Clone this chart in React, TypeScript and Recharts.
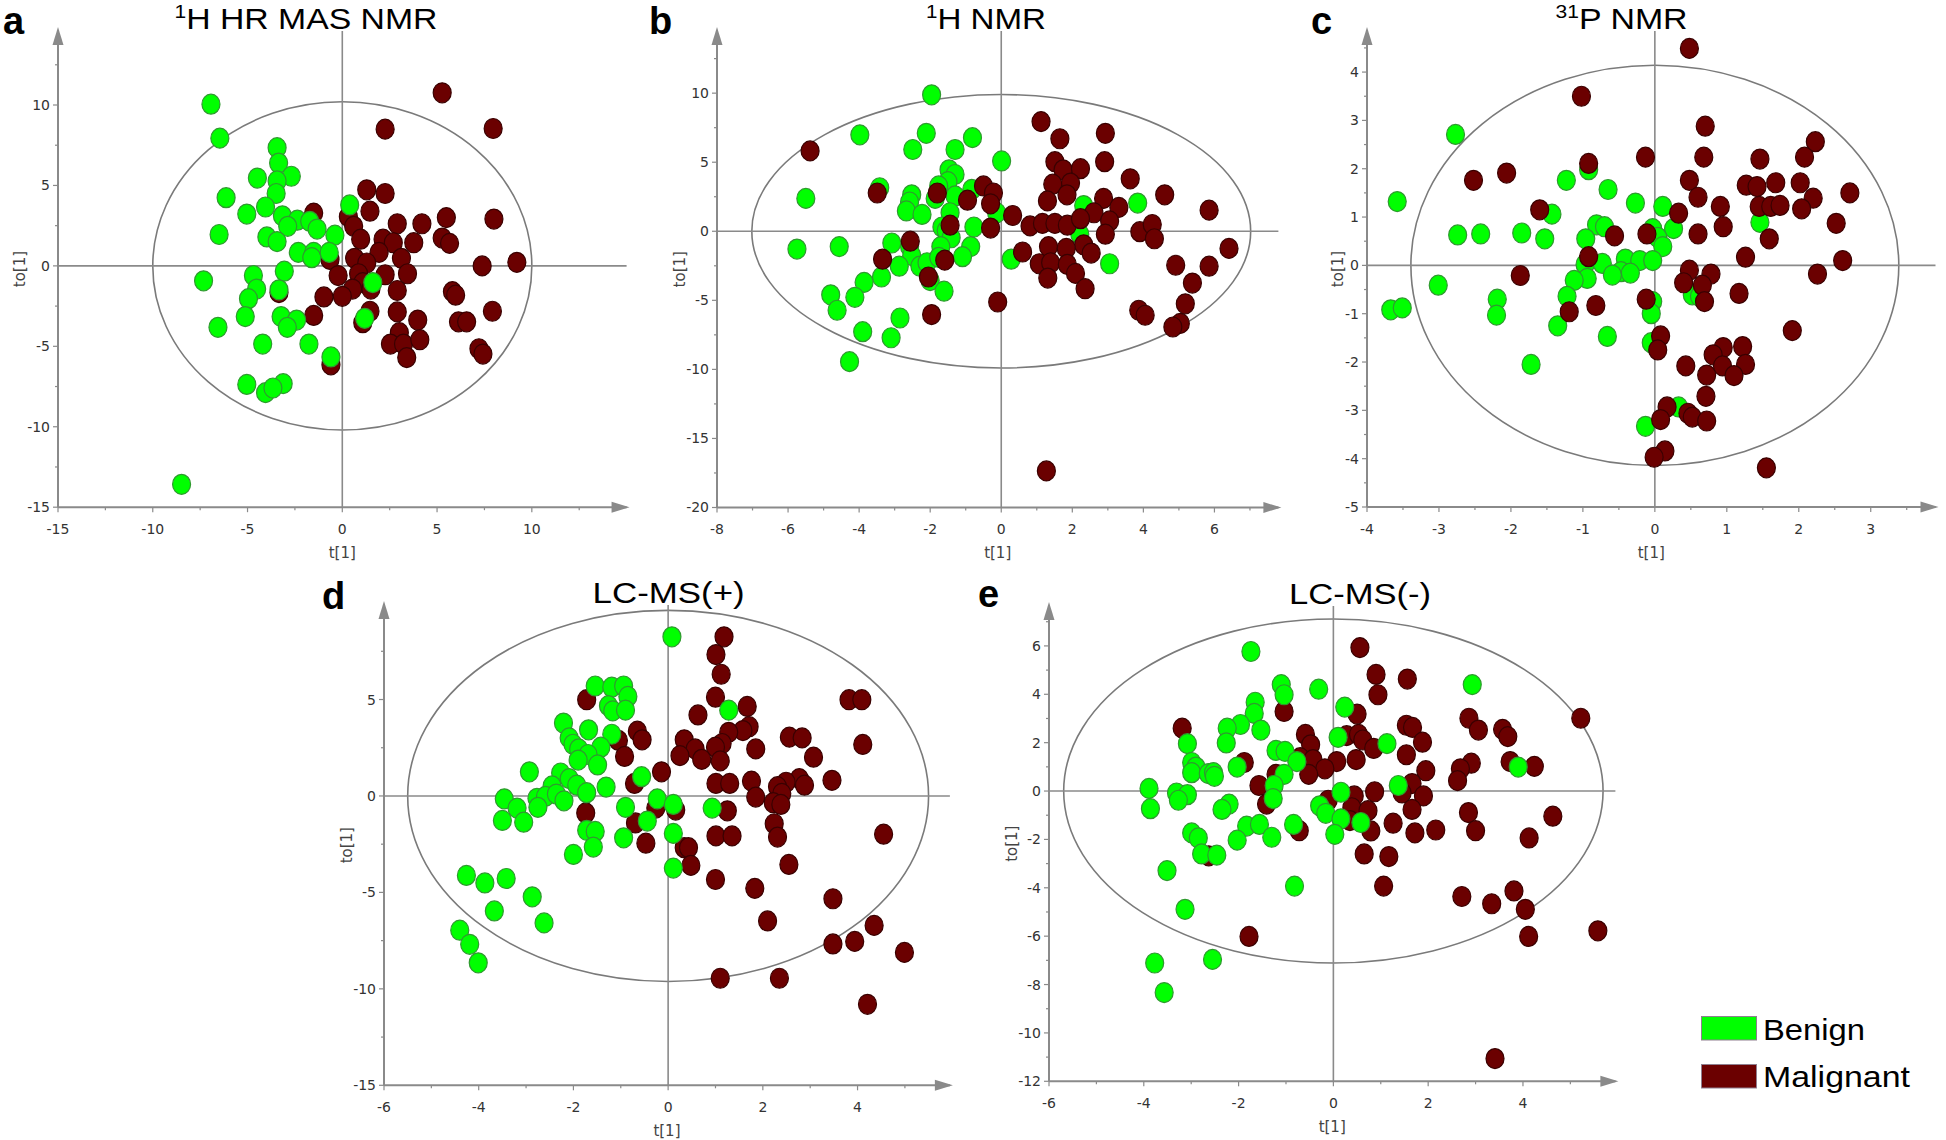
import React from 'react';
import { ScatterChart, Scatter, XAxis, YAxis, ReferenceLine, ReferenceArea, ReferenceDot } from 'recharts';

type Pt = [number, number];

// ---------- Panel a: 1H HR MAS NMR ----------
const aBenign: Pt[] = [
  [-6.93, 10.05], [-6.46, 7.94], [-3.44, 7.35], [-3.36, 6.39], [-4.48, 5.46], [-2.69, 5.57], [-3.44, 5.28],
  [-3.49, 4.5], [-6.13, 4.24], [-4.05, 3.66], [-5.04, 3.22], [-3.16, 3.11], [-2.37, 2.84], [-1.72, 2.77],
  [-2.88, 2.46], [-1.33, 2.29], [-6.5, 1.95], [-3.98, 1.8], [-3.44, 1.51], [-0.39, 1.91], [0.39, 3.79],
  [-2.32, 0.84], [-1.51, 0.84], [-1.61, 0.51], [-0.69, 0.84], [-3.06, -0.33], [-7.32, -0.93], [-4.69, -0.6],
  [-4.52, -1.44], [-3.34, -1.49], [-4.95, -2.04], [1.61, -1.04], [-5.12, -3.15], [-3.23, -3.15], [-2.41, -3.37],
  [-2.9, -3.82], [-6.56, -3.82], [-4.2, -4.86], [-1.76, -4.86], [1.18, -3.26], [-0.6, -5.66], [-5.04, -7.37],
  [-3.12, -7.32], [-4.05, -7.88], [-3.66, -7.59], [-8.48, -13.58],
];
const aMalignant: Pt[] = [
  [5.27, 10.76], [2.26, 8.5], [7.96, 8.54], [1.29, 4.73], [2.26, 4.5], [1.46, 3.4], [-1.51, 3.28], [0.32, 3.06],
  [5.49, 3.0], [8.0, 2.91], [2.9, 2.62], [4.2, 2.62], [0.6, 2.46], [0.97, 1.66], [2.15, 1.66], [2.69, 1.44],
  [3.77, 1.44], [5.27, 1.73], [5.66, 1.4], [1.94, 0.84], [0.65, 0.47], [3.12, 0.47], [1.29, 0.18], [7.38, 0.0],
  [9.21, 0.22], [-0.65, 0.4], [-0.22, -0.6], [0.86, -0.49], [2.26, -0.55], [3.44, -0.49], [1.08, -1.04],
  [1.51, -1.44], [0.54, -1.44], [0.0, -1.89], [-0.97, -1.93], [2.9, -1.53], [5.81, -1.6], [5.98, -1.82],
  [7.92, -2.82], [-1.51, -3.08], [1.46, -2.82], [2.9, -2.86], [1.08, -3.53], [3.98, -3.37], [6.13, -3.48],
  [6.56, -3.48], [3.01, -4.15], [2.54, -4.86], [3.23, -4.86], [4.09, -4.59], [3.4, -5.7], [7.21, -5.15],
  [7.42, -5.48], [-0.6, -6.15], [-3.34, -1.66],
];

// ---------- Panel b: 1H NMR ----------
const bBenign: Pt[] = [
  [-1.96, 9.88], [-3.98, 6.98], [-2.11, 7.09], [-0.81, 6.78], [-2.49, 5.92], [-1.3, 5.92], [0.01, 5.09],
  [-1.47, 4.45], [-1.3, 4.11], [-1.5, 3.59], [-1.76, 3.28], [-3.42, 3.15], [-0.83, 3.03], [-2.52, 2.64],
  [-1.3, 2.56], [-2.58, 2.12], [-5.5, 2.38], [-1.86, 2.38], [-2.67, 1.47], [-2.23, 1.22], [-1.44, 1.34],
  [-0.13, 1.34], [2.32, 1.86], [3.84, 2.04], [-1.67, 0.31], [-1.55, 0.05], [-0.77, 0.31], [-1.41, -0.47],
  [2.21, -0.21], [-5.75, -1.29], [-4.56, -1.11], [-3.08, -0.85], [-2.58, -1.11], [-1.7, -1.11], [-0.86, -1.11],
  [-2.52, -1.76], [-1.09, -1.84], [0.28, -2.02], [-2.87, -2.53], [-2.29, -2.53], [3.05, -2.35], [-2.09, -2.28],
  [-3.37, -3.31], [-3.86, -3.7], [-2.0, -3.57], [-1.61, -4.34], [-4.8, -4.6], [-4.12, -4.78], [-4.62, -5.72],
  [-2.85, -6.28], [-3.9, -7.27], [-3.1, -7.71], [-4.27, -9.44], [-1.76, -1.89],
];
const bMalignant: Pt[] = [
  [-5.38, 5.82], [1.12, 7.94], [1.65, 6.7], [2.93, 7.09], [2.91, 5.04], [1.51, 5.04], [1.74, 4.45], [2.23, 4.53],
  [3.63, 3.8], [1.45, 3.41], [1.95, 3.49], [1.85, 2.64], [-0.5, 3.28], [-0.22, 2.77], [-3.49, 2.77], [-1.8, 2.77],
  [-0.95, 2.25], [-0.3, 1.99], [1.3, 2.2], [2.88, 2.38], [4.6, 2.64], [3.31, 1.73], [2.61, 1.34], [5.85, 1.53],
  [0.32, 1.14], [-0.3, 0.23], [-1.44, 0.44], [0.81, 0.39], [1.16, 0.57], [1.51, 0.57], [1.86, 0.44], [2.23, 0.91],
  [3.05, 0.75], [2.93, -0.21], [3.9, -0.03], [4.25, 0.49], [4.31, -0.54], [2.32, -0.98], [6.41, -1.24],
  [-2.56, -0.72], [0.6, -1.5], [1.33, -1.11], [1.83, -1.24], [2.53, -1.58], [-3.34, -2.02], [-1.59, -2.09],
  [1.07, -2.35], [1.39, -2.28], [1.86, -2.4], [2.09, -3.05], [4.91, -2.46], [5.85, -2.53], [1.31, -3.39],
  [2.36, -4.16], [5.38, -3.75], [-2.05, -3.31], [-0.1, -5.12], [-1.96, -6.03], [3.87, -5.72], [4.05, -6.08],
  [5.18, -5.25], [5.04, -6.67], [4.83, -6.93], [1.27, -17.35],
];

// ---------- Panel c: 31P NMR ----------
const cBenign: Pt[] = [
  [-2.77, 2.71], [-3.58, 1.32], [-1.23, 1.76], [-0.65, 1.57], [-0.92, 1.98], [-0.27, 1.29], [0.11, 1.22],
  [-1.43, 1.06], [-0.81, 0.84], [-0.7, 0.8], [0.26, 0.76], [-2.74, 0.63], [-2.42, 0.65], [-1.85, 0.67],
  [-1.53, 0.55], [-0.96, 0.55], [-0.03, 0.76], [0.04, 0.58], [0.11, 0.39], [1.46, 0.89], [-0.97, 0.02],
  [-0.73, 0.04], [-0.41, 0.13], [-0.21, 0.1], [-0.03, 0.1], [-0.47, -0.13], [-0.59, -0.2], [-0.34, -0.16],
  [-0.94, -0.27], [-1.12, -0.31], [-3.01, -0.41], [-1.22, -0.64], [-2.19, -0.7], [0.52, -0.61], [0.62, -0.64],
  [-3.67, -0.92], [-3.51, -0.88], [-2.2, -1.03], [-0.03, -0.75], [-0.05, -1.0], [-1.35, -1.25], [-0.66, -1.47],
  [-0.05, -1.6], [-1.72, -2.05], [0.33, -2.93], [-0.13, -3.33],
];
const cMalignant: Pt[] = [
  [0.48, 4.49], [-1.02, 3.5], [0.7, 2.88], [2.23, 2.56], [-0.13, 2.24], [0.68, 2.24], [1.46, 2.2], [2.08, 2.24],
  [-2.06, 1.91], [-0.92, 2.11], [-2.52, 1.76], [0.48, 1.76], [1.27, 1.66], [1.42, 1.63], [1.68, 1.71],
  [2.02, 1.71], [2.71, 1.5], [0.6, 1.41], [2.2, 1.39], [1.45, 1.22], [1.61, 1.22], [1.74, 1.24], [2.04, 1.17],
  [0.91, 1.22], [-1.6, 1.15], [0.33, 1.08], [2.52, 0.87], [0.95, 0.8], [-0.56, 0.61], [0.6, 0.65], [-0.11, 0.65],
  [1.59, 0.55], [-0.92, 0.18], [1.26, 0.17], [2.61, 0.1], [-1.87, -0.21], [0.48, -0.1], [2.26, -0.18],
  [0.78, -0.18], [0.4, -0.36], [0.66, -0.41], [1.17, -0.58], [0.69, -0.75], [-0.12, -0.7], [-0.82, -0.83],
  [-1.19, -0.96], [1.91, -1.35], [0.08, -1.46], [0.04, -1.75], [0.95, -1.7], [1.22, -1.68], [0.81, -1.85],
  [0.43, -2.08], [0.94, -2.08], [1.26, -2.05], [0.72, -2.27], [1.1, -2.28], [0.71, -2.71], [0.17, -2.93],
  [0.46, -3.06], [0.52, -3.14], [0.72, -3.22], [0.08, -3.19], [0.14, -3.84], [-0.01, -3.97], [1.55, -4.19],
];

// ---------- Panel d: LC-MS(+) ----------
const dBenign: Pt[] = [
  [0.08, 8.25], [-1.54, 5.7], [-1.19, 5.64], [-0.94, 5.7], [-0.85, 5.16], [-1.26, 4.68], [-1.17, 4.41],
  [-0.9, 4.45], [1.28, 4.45], [-2.21, 3.78], [-1.68, 3.43], [-1.19, 3.2], [-2.09, 3.01], [-2.01, 2.68],
  [-1.89, 2.44], [-1.42, 2.53], [-1.69, 2.15], [-1.9, 1.86], [-1.49, 1.61], [-2.93, 1.25], [-2.27, 1.19],
  [-2.09, 0.9], [-0.56, 1.0], [-1.93, 0.56], [-1.31, 0.46], [-2.45, 0.52], [-1.72, 0.17], [-3.46, -0.15],
  [-2.77, -0.12], [-2.59, -0.02], [-2.36, 0.1], [-2.2, -0.25], [-3.19, -0.63], [-2.75, -0.59], [-0.23, -0.15],
  [0.11, -0.44], [-0.9, -0.59], [0.93, -0.63], [-3.5, -1.27], [-3.05, -1.36], [-0.44, -1.3], [-1.72, -1.78],
  [-1.54, -1.84], [0.11, -1.94], [-0.94, -2.17], [-1.58, -2.65], [-2.0, -3.03], [0.11, -3.74], [-4.26, -4.12],
  [-3.87, -4.51], [-3.42, -4.28], [-2.87, -5.23], [-3.67, -5.96], [-2.62, -6.58], [-4.4, -6.96], [-4.19, -7.69],
  [-4.01, -8.65],
];
const dMalignant: Pt[] = [
  [1.18, 8.25], [1.01, 7.33], [1.12, 6.31], [-1.72, 4.99], [1.0, 5.12], [3.82, 4.99], [4.09, 4.99], [1.67, 4.64],
  [0.63, 4.2], [1.71, 3.59], [1.58, 3.39], [-0.65, 3.36], [1.28, 3.3], [2.56, 3.05], [2.83, 3.01], [0.34, 2.91],
  [-0.55, 2.91], [-1.05, 2.88], [1.14, 2.72], [1.0, 2.53], [0.57, 2.44], [4.11, 2.67], [1.85, 2.44], [0.25, 2.09],
  [-0.92, 2.05], [0.71, 1.9], [1.1, 1.82], [3.07, 2.01], [-0.14, 1.25], [1.76, 0.77], [1.01, 0.65], [1.3, 0.65],
  [2.77, 0.9], [3.46, 0.81], [2.49, 0.71], [2.88, 0.56], [2.31, 0.48], [-0.71, 0.65], [2.4, 0.13], [1.85, -0.06],
  [2.22, -0.35], [2.38, -0.44], [-0.26, -0.63], [0.16, -0.73], [1.25, -0.77], [-1.74, -0.88], [-0.69, -1.4],
  [2.24, -1.44], [1.01, -2.07], [1.35, -2.07], [2.31, -2.13], [4.55, -1.98], [-0.47, -2.45], [0.34, -2.68],
  [0.43, -2.68], [0.48, -3.6], [2.55, -3.55], [1.0, -4.33], [1.83, -4.79], [3.48, -5.33], [2.1, -6.48],
  [4.35, -6.71], [3.48, -7.67], [3.94, -7.54], [4.99, -8.11], [1.1, -9.45], [2.35, -9.45], [4.21, -10.8],
];

// ---------- Panel e: LC-MS(-) ----------
const eBenign: Pt[] = [
  [-1.74, 5.77], [2.93, 4.4], [-1.1, 4.4], [-1.04, 3.98], [-0.31, 4.21], [-1.65, 3.67], [-1.67, 3.21],
  [0.24, 3.47], [-1.96, 2.75], [-2.24, 2.6], [-1.53, 2.52], [-3.08, 1.96], [-2.26, 1.99], [1.13, 1.96],
  [0.1, 2.22], [-1.21, 1.68], [-1.02, 1.64], [-0.77, 1.22], [-2.03, 0.99], [-2.99, 1.18], [-2.9, 0.99],
  [-2.99, 0.76], [-2.64, 0.72], [-2.53, 0.76], [-2.51, 0.61], [-1.04, 0.69], [3.9, 0.99], [-1.25, 0.23],
  [-3.89, 0.11], [1.37, 0.23], [0.16, -0.05], [-3.31, -0.08], [-3.08, -0.15], [-3.27, -0.38], [-1.27, -0.31],
  [-3.86, -0.73], [-2.2, -0.54], [-2.35, -0.76], [-0.29, -0.61], [-0.16, -0.92], [0.16, -1.15], [0.58, -1.3],
  [-1.83, -1.45], [-1.56, -1.38], [-0.84, -1.38], [-2.99, -1.73], [-1.3, -1.91], [-2.85, -1.94], [-2.03, -2.03],
  [0.03, -1.79], [-2.78, -2.6], [-2.46, -2.65], [-3.51, -3.29], [-0.82, -3.93], [-3.13, -4.89], [-3.77, -7.11],
  [-2.55, -6.96], [-3.57, -8.33],
];
const eMalignant: Pt[] = [
  [0.56, 5.93], [0.9, 4.82], [1.56, 4.63], [0.94, 3.98], [-1.04, 3.29], [0.5, 3.18], [5.22, 3.01], [2.86, 3.01],
  [-3.19, 2.6], [3.06, 2.52], [1.54, 2.72], [1.67, 2.63], [3.57, 2.55], [3.68, 2.25], [-0.59, 2.34], [0.28, 2.29],
  [0.53, 2.34], [-0.48, 1.91], [0.62, 2.11], [1.88, 2.02], [0.85, 1.76], [-0.7, 1.38], [-0.43, 1.3], [0.48, 1.3],
  [1.54, 1.5], [-1.88, 1.18], [0.07, 1.22], [2.91, 1.15], [3.73, 1.22], [4.24, 1.02], [2.68, 0.92], [-0.18, 0.92],
  [1.95, 0.84], [-0.52, 0.69], [-1.21, 0.69], [2.62, 0.43], [-1.57, 0.23], [1.66, 0.31], [1.45, -0.08],
  [0.87, -0.03], [0.44, -0.2], [1.9, -0.2], [-0.11, -0.38], [-1.41, -0.54], [0.39, -0.69], [1.66, -0.76],
  [0.73, -0.81], [2.85, -0.89], [4.63, -1.04], [1.26, -1.33], [0.35, -1.22], [2.16, -1.61], [1.72, -1.73],
  [3.0, -1.64], [0.79, -1.65], [-0.72, -1.64], [4.13, -1.94], [-2.63, -2.68], [0.65, -2.6], [1.17, -2.71],
  [1.06, -3.93], [2.71, -4.36], [3.81, -4.13], [3.34, -4.66], [4.05, -4.89], [5.58, -5.78], [-1.78, -6.01],
  [4.12, -6.01], [3.41, -11.06],
];

// ---------- Tick values ----------
const aXMajor = [-15, -10, -5, 0, 5, 10];
const aXMinor = [-12.5, -7.5, -2.5, 2.5, 7.5, 12.5];
const aYMajor = [-15, -10, -5, 0, 5, 10];
const aYMinor = [-12.5, -7.5, -2.5, 2.5, 7.5, 12.5];

const bXMajor = [-8, -6, -4, -2, 0, 2, 4, 6];
const bXMinor = [-7, -5, -3, -1, 1, 3, 5, 7];
const bYMajor = [-20, -15, -10, -5, 0, 5, 10];
const bYMinor = [-17.5, -12.5, -7.5, -2.5, 2.5, 7.5, 12.5];

const cXMajor = [-4, -3, -2, -1, 0, 1, 2, 3];
const cXMinor = [-3.5, -2.5, -1.5, -0.5, 0.5, 1.5, 2.5, 3.5];
const cYMajor = [-5, -4, -3, -2, -1, 0, 1, 2, 3, 4];
const cYMinor = [-4.5, -3.5, -2.5, -1.5, -0.5, 0.5, 1.5, 2.5, 3.5, 4.5];

const dXMajor = [-6, -4, -2, 0, 2, 4];
const dXMinor = [-5, -3, -1, 1, 3, 5];
const dYMajor = [-15, -10, -5, 0, 5];
const dYMinor = [-12.5, -7.5, -2.5, 2.5, 7.5];

const eXMajor = [-6, -4, -2, 0, 2, 4];
const eXMinor = [-5, -3, -1, 1, 3, 5];
const eYMajor = [-12, -10, -8, -6, -4, -2, 0, 2, 4, 6];
const eYMinor = [-11, -9, -7, -5, -3, -1, 1, 3, 5, 7];

const seriesNames = ['Benign', 'Malignant'];

// ---------- Styles ----------
const AXIS_C = '#8a8a8a';
const GREEN = '#00ff00';
const GREEN_STROKE = '#2f9a2f';
const RED = '#6b0000';
const RED_STROKE = '#3a0000';
const FONT_AX = "'DejaVu Sans', Verdana, sans-serif";
const FONT_T = "'Liberation Sans', Arial, sans-serif";

interface PanelCfg {
  plot: { left: number; top: number; right: number; bottom: number };
  xDomain: [number, number];
  yDomain: [number, number];
  xMajor: number[];
  xMinor: number[];
  yMajor: number[];
  yMinor: number[];
  ellipse: [number, number];
  benign: Pt[];
  malignant: Pt[];
  yLabelOffset: number;
  benignOnTop: boolean;
}

const panels: PanelCfg[] = [
  {
    plot: { left: 58.4, top: 30.9, right: 627, bottom: 507.1 },
    xDomain: [-15, 15], yDomain: [-15, 14.6],
    xMajor: aXMajor, xMinor: aXMinor, yMajor: aYMajor, yMinor: aYMinor,
    ellipse: [10, 10.2], benign: aBenign, malignant: aMalignant, yLabelOffset: 38, benignOnTop: true,
  },
  {
    plot: { left: 716.7, top: 30.6, right: 1278.1, bottom: 507.1 },
    xDomain: [-8, 7.8], yDomain: [-20, 14.5],
    xMajor: bXMajor, xMinor: bXMinor, yMajor: bYMajor, yMinor: bYMinor,
    ellipse: [7.02, 9.9], benign: bBenign, malignant: bMalignant, yLabelOffset: 37, benignOnTop: false,
  },
  {
    plot: { left: 1366.6, top: 31.1, right: 1935.1, bottom: 507.1 },
    xDomain: [-4, 3.9], yDomain: [-5, 4.85],
    xMajor: cXMajor, xMinor: cXMinor, yMajor: cYMajor, yMinor: cYMinor,
    ellipse: [3.39, 4.14], benign: cBenign, malignant: cMalignant, yLabelOffset: 29, benignOnTop: false,
  },
  {
    plot: { left: 383.7, top: 605, right: 949.6, bottom: 1085.3 },
    xDomain: [-6, 5.95], yDomain: [-15, 9.9],
    xMajor: dXMajor, xMinor: dXMinor, yMajor: dYMajor, yMinor: dYMinor,
    ellipse: [5.5, 9.62], benign: dBenign, malignant: dMalignant, yLabelOffset: 37, benignOnTop: true,
  },
  {
    plot: { left: 1049.4, top: 606.3, right: 1615.8, bottom: 1081.6 },
    xDomain: [-6, 5.95], yDomain: [-12, 7.65],
    xMajor: eXMajor, xMinor: eXMinor, yMajor: eYMajor, yMinor: eYMinor,
    ellipse: [5.69, 7.11], benign: eBenign, malignant: eMalignant, yLabelOffset: 37, benignOnTop: true,
  },
];

const isIn = (arr: number[], v: number) => arr.some((m) => Math.abs(m - v) < 1e-9);

function XTick(props: any) {
  const { x, y, payload, majors } = props;
  const v = payload.value;
  const major = isIn(majors, v);
  return (
    <g>
      <line x1={x} y1={y} x2={x} y2={y + (major ? 5 : 3)} stroke={AXIS_C} strokeWidth={1.2} />
      {major && (
        <text x={x} y={y + 27} textAnchor="middle" fontFamily={FONT_AX} fontSize={14} fill="#333">
          {String(v)}
        </text>
      )}
    </g>
  );
}

function YTick(props: any) {
  const { x, y, payload, majors } = props;
  const v = payload.value;
  const major = isIn(majors, v);
  return (
    <g>
      <line x1={x - (major ? 5 : 3)} y1={y} x2={x} y2={y} stroke={AXIS_C} strokeWidth={1.2} />
      {major && (
        <text x={x - 8} y={y + 5} textAnchor="end" fontFamily={FONT_AX} fontSize={14} fill="#333">
          {String(v)}
        </text>
      )}
    </g>
  );
}

const ellipseShape = (p: any) => (
  <ellipse
    cx={p.x + p.width / 2}
    cy={p.y + p.height / 2}
    rx={Math.abs(p.width) / 2}
    ry={Math.abs(p.height) / 2}
    fill="none"
    stroke="#7a7a7a"
    strokeWidth={1.6}
  />
);

const arrowRight = (p: any) => (
  <polygon points={`${p.cx + 3},${p.cy} ${p.cx - 15},${p.cy - 5.5} ${p.cx - 15},${p.cy + 5.5}`} fill={AXIS_C} />
);
const arrowUp = (p: any) => (
  <polygon points={`${p.cx},${p.cy - 4} ${p.cx - 5.5},${p.cy + 14} ${p.cx + 5.5},${p.cy + 14}`} fill={AXIS_C} />
);

const greenDot = (p: any) => (
  <ellipse cx={p.cx} cy={p.cy} rx={9} ry={10} fill={GREEN} stroke={GREEN_STROKE} strokeWidth={1.2} />
);
const redDot = (p: any) => (
  <ellipse cx={p.cx} cy={p.cy} rx={9} ry={10} fill={RED} stroke={RED_STROKE} strokeWidth={1.2} />
);

function Panel({ cfg }: { cfg: PanelCfg }) {
  const yw = cfg.yLabelOffset * 2;
  const xh = 56;
  const mt = 14;
  const mr = 14;
  const pw = cfg.plot.right - cfg.plot.left;
  const ph = cfg.plot.bottom - cfg.plot.top;
  const W = pw + yw + mr;
  const H = ph + mt + xh;
  const left = cfg.plot.left - yw;
  const top = cfg.plot.top - mt;
  const benign = cfg.benign.map(([x, y]) => ({ x, y }));
  const malignant = cfg.malignant.map(([x, y]) => ({ x, y }));
  const xTicks = [...cfg.xMajor, ...cfg.xMinor].sort((a, b) => a - b);
  const yTicks = [...cfg.yMajor, ...cfg.yMinor].sort((a, b) => a - b);
  const [rx, ry] = cfg.ellipse;

  const benignSeries = (
    <Scatter key="b" name={seriesNames[0]} data={benign} shape={greenDot} isAnimationActive={false} />
  );
  const malignantSeries = (
    <Scatter key="m" name={seriesNames[1]} data={malignant} shape={redDot} isAnimationActive={false} />
  );

  return (
    <div style={{ position: 'absolute', left, top, width: W, height: H }}>
      <ScatterChart width={W} height={H} margin={{ top: mt, right: mr, bottom: 0, left: 0 }}>
        <XAxis
          type="number"
          dataKey="x"
          domain={cfg.xDomain}
          ticks={xTicks}
          interval={0}
          height={xh}
          tickSize={0}
          tickMargin={0}
          tickLine={false}
          axisLine={{ stroke: AXIS_C, strokeWidth: 2 }}
          tick={(p: any) => <XTick {...p} majors={cfg.xMajor} />}
          label={{ value: 't[1]', position: 'insideBottom', offset: 5, fill: '#444', fontSize: 15, fontFamily: FONT_AX }}
        />
        <YAxis
          type="number"
          dataKey="y"
          domain={cfg.yDomain}
          ticks={yTicks}
          interval={0}
          width={yw}
          tickSize={0}
          tickMargin={0}
          tickLine={false}
          axisLine={{ stroke: AXIS_C, strokeWidth: 2 }}
          tick={(p: any) => <YTick {...p} majors={cfg.yMajor} />}
          label={{ value: 'to[1]', angle: -90, position: 'center', fill: '#444', fontSize: 15, fontFamily: FONT_AX }}
        />
        <ReferenceArea x1={-rx} x2={rx} y1={-ry} y2={ry} shape={ellipseShape} />
        <ReferenceLine x={0} stroke={AXIS_C} strokeWidth={1.6} />
        <ReferenceLine y={0} stroke={AXIS_C} strokeWidth={1.6} />
        {cfg.benignOnTop ? [malignantSeries, benignSeries] : [benignSeries, malignantSeries]}
        <ReferenceDot x={cfg.xDomain[1]} y={cfg.yDomain[0]} r={1} shape={arrowRight} />
        <ReferenceDot x={cfg.xDomain[0]} y={cfg.yDomain[1]} r={1} shape={arrowUp} />
      </ScatterChart>
    </div>
  );
}

function Overlay() {
  const titleProps = { fontFamily: FONT_T, fontSize: 29, fill: '#000', textAnchor: 'middle' as const, lengthAdjust: 'spacingAndGlyphs' as const };
  const letterProps = { fontFamily: FONT_T, fontSize: 38, fontWeight: 700, fill: '#000' };
  const legText = { fontFamily: FONT_T, fontSize: 29, fill: '#000', lengthAdjust: 'spacingAndGlyphs' as const };
  return (
    <svg width={1946} height={1140} style={{ position: 'absolute', left: 0, top: 0, pointerEvents: 'none' }}>
      <text x={3} y={33.5} {...letterProps}>a</text>
      <text x={649} y={33.5} {...letterProps}>b</text>
      <text x={1311} y={33.5} {...letterProps}>c</text>
      <text x={322} y={609} {...letterProps}>d</text>
      <text x={978} y={607} {...letterProps}>e</text>

      <text x={306} y={28.6} textLength={263} {...titleProps}>
        <tspan fontSize={18} dy={-11}>1</tspan>
        <tspan dy={11}>H HR MAS NMR</tspan>
      </text>
      <text x={986} y={28.6} textLength={120} {...titleProps}>
        <tspan fontSize={18} dy={-11}>1</tspan>
        <tspan dy={11}>H NMR</tspan>
      </text>
      <text x={1621.6} y={28.6} textLength={132} {...titleProps}>
        <tspan fontSize={18} dy={-11}>31</tspan>
        <tspan dy={11}>P NMR</tspan>
      </text>
      <text x={668.6} y={602.5} textLength={152} {...titleProps}>LC-MS(+)</text>
      <text x={1360} y={604.4} textLength={142} {...titleProps}>LC-MS(-)</text>

      <rect x={1701.5} y={1016.5} width={55} height={23.5} fill={GREEN} stroke="#8f7f8f" strokeWidth={1} />
      <text x={1763} y={1039.5} textLength={102} {...legText}>{seriesNames[0]}</text>
      <rect x={1701.5} y={1064.5} width={55} height={23.5} fill={RED} stroke="#8f7f8f" strokeWidth={1} />
      <text x={1763} y={1087} textLength={147} {...legText}>{seriesNames[1]}</text>
    </svg>
  );
}

export default function App() {
  return (
    <div style={{ position: 'absolute', left: 0, top: 0, width: 1946, height: 1140, overflow: 'hidden', background: '#fff' }}>
      {panels.map((cfg, i) => (
        <Panel key={i} cfg={cfg} />
      ))}
      <Overlay />
    </div>
  );
}
